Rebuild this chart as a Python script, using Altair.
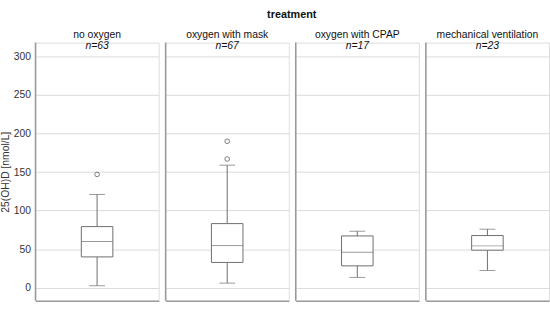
import altair as alt
import pandas as pd

# Five-number summaries of 25(OH)D per treatment group
treatments = ["no oxygen", "oxygen with mask", "oxygen with CPAP", "mechanical ventilation"]
n_patients = [63, 67, 17, 23]
whisker_low = [2.6, 6, 13.4, 22.4]
q1 = [40, 32.8, 28.4, 48.7]
median = [60, 54.7, 46.1, 54.3]
q3 = [79.3, 83.2, 67.2, 67.7]
whisker_high = [121, 159, 73.3, 75.9]
outliers = [[147], [167, 190], [], []]

rows = []
for i, t in enumerate(treatments):
    rows.append(dict(kind="box", treatment=t, n=f"n={n_patients[i]}",
                     lo=whisker_low[i], q1=q1[i], med=median[i], q3=q3[i],
                     hi=whisker_high[i], out=None))
    for v in outliers[i]:
        rows.append(dict(kind="out", treatment=t, n=None, lo=None, q1=None,
                         med=None, q3=None, hi=None, out=v))
df = pd.DataFrame(rows)

W, H = 125, 262
LINE = "#6e6e6e"
FRAME = "#9a9a9a"

x_enc = alt.X("treatment:N", title=None,
              axis=alt.Axis(labels=False, ticks=False, grid=False, domain=True,
                            domainColor=FRAME, domainWidth=1.5))
y_scale = alt.Scale(domain=[-17, 318], nice=False, zero=False)
y_axis = alt.Axis(values=[0, 50, 100, 150, 200, 250, 300], grid=True,
                  gridColor="#dadada", domain=False, ticks=False,
                  labelFontSize=10.5, labelColor="#333", labelPadding=3,
                  title="25(OH)D [nmol/L]", titleFontSize=10.5,
                  titleFontWeight="normal", titleColor="#333", titlePadding=3)

base = alt.Chart(df)
boxes = base.transform_filter("datum.kind == 'box'")

whisker = boxes.mark_rule(color=LINE, strokeWidth=1).encode(
    x=x_enc, y=alt.Y("lo:Q", scale=y_scale, axis=y_axis), y2="hi:Q")
box = boxes.mark_bar(size=32, fill="white", stroke=LINE, strokeWidth=1).encode(
    x=x_enc, y=alt.Y("q1:Q", scale=y_scale, axis=y_axis), y2="q3:Q")
med = boxes.mark_tick(size=32, thickness=1, color=LINE).encode(
    x=x_enc, y=alt.Y("med:Q", scale=y_scale, axis=y_axis))
cap_lo = boxes.mark_tick(size=16, thickness=1, color=LINE).encode(
    x=x_enc, y=alt.Y("lo:Q", scale=y_scale, axis=y_axis))
cap_hi = boxes.mark_tick(size=16, thickness=1, color=LINE).encode(
    x=x_enc, y=alt.Y("hi:Q", scale=y_scale, axis=y_axis))
pts = base.transform_filter("datum.kind == 'out'").mark_point(
    shape="circle", filled=False, size=22, color="#444", strokeWidth=1).encode(
    x=x_enc, y=alt.Y("out:Q", scale=y_scale, axis=y_axis))
ntext = boxes.mark_text(fontStyle="italic", fontSize=10.5, baseline="middle",
                        color="#111").encode(
    x=x_enc, y=alt.value(3), text="n:N")
left_frame = boxes.mark_rule(color=FRAME, strokeWidth=1.5).encode(
    x=alt.value(0), y=alt.value(0), y2=alt.value(H))

layered = alt.layer(whisker, box, med, cap_lo, cap_hi, pts, ntext, left_frame).properties(
    width=W, height=H)

chart = layered.facet(
    column=alt.Column("treatment:N", sort=treatments, title="treatment",
                      header=alt.Header(labelFontSize=10.5, labelColor="#111",
                                        labelPadding=-1, titleFontSize=11,
                                        titleFontWeight="bold", titleColor="#111",
                                        titlePadding=0))
).resolve_scale(x="independent").properties(
    spacing=4, padding={"left": 0, "top": 7, "right": 0, "bottom": 0}
).configure_view(stroke=None).configure(font="Liberation Sans", background="white")

chart.save("out.html", embed_options={"renderer": "svg", "actions": False})
